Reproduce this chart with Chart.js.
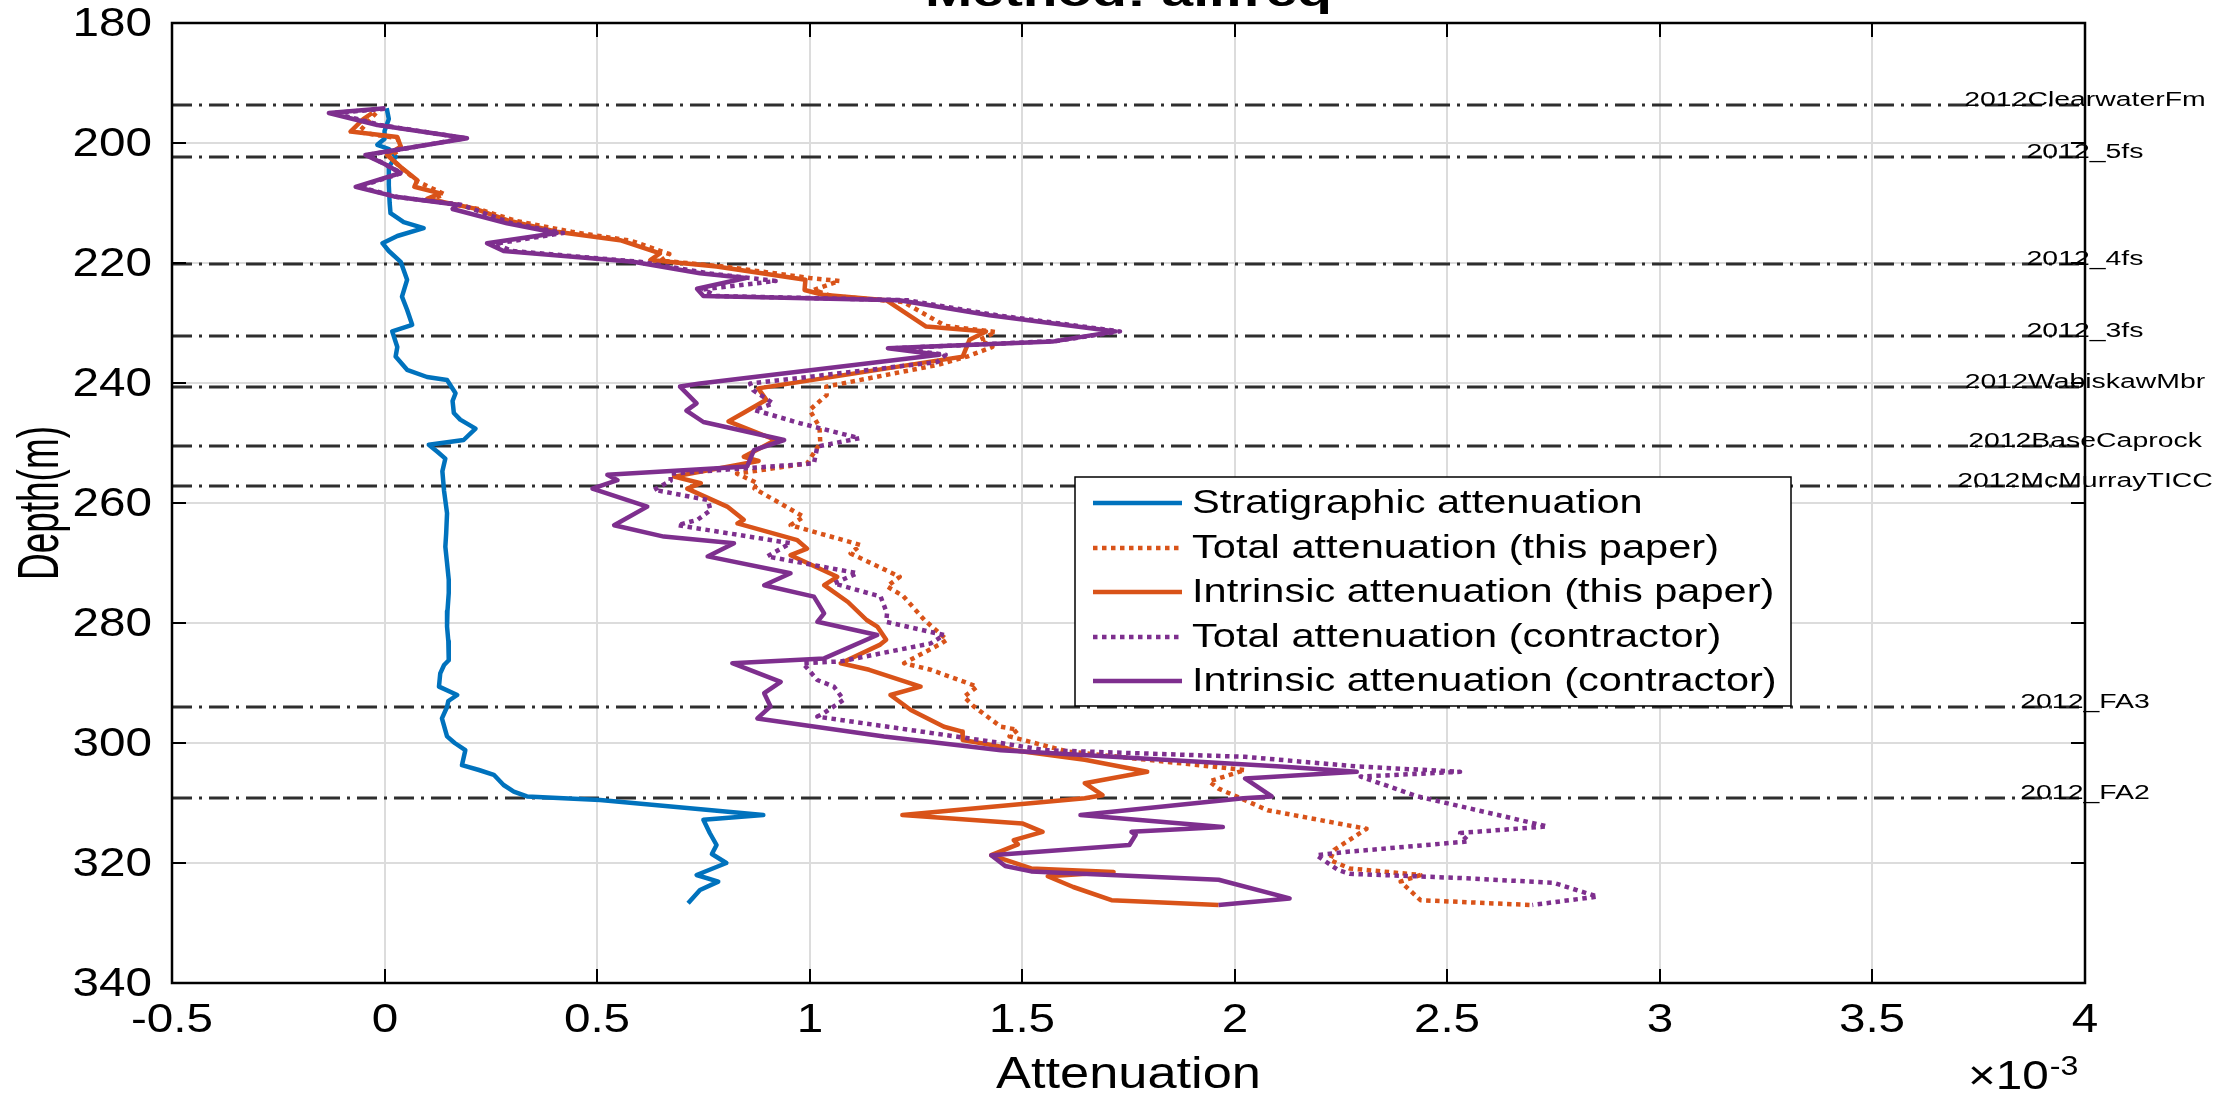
<!DOCTYPE html>
<html>
<head>
<meta charset="utf-8">
<title>Method: allfreq</title>
<script src="https://cdn.jsdelivr.net/npm/chart.js@4.4.0/dist/chart.umd.min.js"></script>
<style>
  html, body { margin: 0; padding: 0; background: #fff; overflow: hidden; }
  canvas { display: block; }
</style>
</head>
<body>
<canvas id="attenChart" width="2232" height="1094"></canvas>
<script>
// attenuation values are in units of 1e-3, depths in metres

// stratigraphic attenuation
const stratDepth = [194.2, 196.0, 198.0, 199.3, 200.3, 201.0, 202.3, 204.0, 207.0, 210.0, 211.7, 213.2, 214.2, 215.5, 216.7, 218.0, 219.8, 222.8, 225.6, 227.8, 230.3, 231.4, 234.0, 235.6, 237.8, 239.0, 239.5, 241.7, 243.0, 245.0, 246.1, 247.6, 249.5, 250.3, 251.5, 252.6, 254.7, 258.0, 261.7, 265.0, 267.3, 270.0, 272.8, 275.0, 278.0, 280.6, 283.0, 286.2, 287.0, 288.4, 290.6, 292.0, 293.0, 294.0, 295.9, 298.9, 300.0, 301.2, 303.7, 304.5, 305.3, 307.0, 308.1, 308.9, 309.5, 312.0, 312.8, 315.0, 317.0, 318.5, 320.0, 322.0, 323.1, 324.5, 326.7];
const stratAtten = [0.005, 0.010, 0.000, 0.000, -0.017, 0.010, 0.026, 0.010, 0.010, 0.012, 0.014, 0.045, 0.092, 0.030, -0.005, 0.010, 0.038, 0.053, 0.041, 0.053, 0.065, 0.018, 0.030, 0.026, 0.053, 0.100, 0.147, 0.167, 0.160, 0.163, 0.178, 0.214, 0.186, 0.104, 0.125, 0.143, 0.136, 0.140, 0.147, 0.145, 0.143, 0.147, 0.151, 0.151, 0.148, 0.147, 0.150, 0.151, 0.140, 0.131, 0.128, 0.171, 0.150, 0.147, 0.135, 0.147, 0.165, 0.190, 0.182, 0.222, 0.257, 0.280, 0.304, 0.335, 0.507, 0.891, 0.750, 0.765, 0.781, 0.770, 0.804, 0.734, 0.785, 0.742, 0.714];

// total attenuation (this paper)
const totalPaperDepth = [195.0, 196.5, 198.2, 199.2, 201.0, 202.2, 204.2, 206.5, 208.5, 209.5, 211.0, 213.0, 214.8, 216.3, 218.5, 219.6, 220.6, 222.5, 223.0, 224.5, 225.5, 226.5, 230.5, 231.5, 232.8, 234.0, 235.6, 237.0, 240.6, 242.0, 244.5, 247.3, 250.0, 253.4, 255.1, 256.7, 257.6, 262.3, 263.7, 267.0, 268.4, 272.3, 273.9, 275.5, 279.5, 282.8, 283.4, 286.7, 287.8, 290.6, 292.3, 293.9, 297.3, 297.8, 298.9, 301.4, 304.5, 306.4, 307.6, 311.2, 314.3, 317.8, 319.5, 320.9, 322.0, 323.1, 326.2, 327.0];
const totalPaperAtten = [-0.020, -0.040, -0.060, 0.030, 0.040, 0.010, 0.040, 0.080, 0.140, 0.110, 0.220, 0.310, 0.440, 0.580, 0.670, 0.650, 0.800, 1.000, 1.070, 1.010, 1.050, 1.220, 1.320, 1.438, 1.400, 1.430, 1.370, 1.300, 1.039, 1.040, 1.000, 1.023, 1.025, 0.994, 0.829, 0.877, 0.870, 0.986, 0.955, 1.120, 1.096, 1.212, 1.182, 1.220, 1.270, 1.323, 1.310, 1.222, 1.285, 1.394, 1.363, 1.386, 1.450, 1.490, 1.470, 1.605, 2.024, 1.940, 1.962, 2.077, 2.310, 2.234, 2.224, 2.270, 2.437, 2.390, 2.437, 2.696];

// intrinsic attenuation (this paper)
const intrPaperDepth = [195.0, 196.0, 198.1, 199.0, 200.6, 202.0, 204.0, 206.2, 207.3, 208.4, 209.3, 210.9, 212.9, 214.8, 216.2, 218.4, 219.5, 220.6, 222.8, 224.5, 225.3, 226.2, 230.6, 231.4, 232.8, 235.6, 240.9, 242.8, 245.0, 246.4, 249.5, 252.3, 253.0, 255.6, 256.7, 257.6, 260.6, 262.8, 263.4, 266.2, 267.6, 268.7, 272.3, 273.7, 276.5, 279.5, 280.6, 282.8, 283.6, 286.7, 287.8, 290.6, 292.0, 294.5, 297.3, 298.1, 299.5, 300.6, 301.2, 302.8, 304.8, 306.7, 308.7, 309.2, 312.0, 313.4, 314.8, 316.2, 316.9, 318.7, 320.9, 321.5, 322.2, 324.0, 326.2, 327.0];
const intrPaperAtten = [-0.029, -0.050, -0.080, 0.030, 0.038, 0.006, 0.038, 0.077, 0.070, 0.131, 0.100, 0.210, 0.290, 0.405, 0.554, 0.648, 0.625, 0.781, 0.990, 0.988, 1.031, 1.180, 1.274, 1.415, 1.376, 1.360, 0.879, 0.898, 0.844, 0.809, 0.920, 0.845, 0.880, 0.681, 0.744, 0.712, 0.806, 0.845, 0.830, 0.971, 0.994, 0.955, 1.065, 1.034, 1.090, 1.134, 1.159, 1.180, 1.166, 1.073, 1.140, 1.261, 1.190, 1.238, 1.316, 1.359, 1.360, 1.450, 1.480, 1.647, 1.794, 1.647, 1.689, 1.647, 1.218, 1.500, 1.548, 1.480, 1.490, 1.427, 1.521, 1.715, 1.560, 1.620, 1.710, 1.962];

// total attenuation (contractor)
const totalContrDepth = [194.3, 195.0, 197.0, 199.2, 202.0, 205.0, 207.3, 209.0, 210.3, 213.4, 215.0, 216.8, 218.0, 219.8, 221.7, 223.0, 224.4, 225.5, 226.2, 228.7, 231.4, 233.0, 234.2, 235.3, 236.5, 240.1, 241.2, 243.4, 244.5, 246.7, 249.2, 250.6, 253.4, 255.1, 256.3, 257.8, 259.5, 261.2, 262.8, 263.7, 266.7, 268.9, 271.7, 273.4, 275.6, 278.4, 279.8, 282.0, 283.4, 286.4, 286.7, 289.5, 290.6, 292.8, 295.0, 295.6, 300.0, 301.2, 302.3, 303.9, 304.8, 305.6, 308.9, 313.9, 315.0, 316.4, 318.1, 318.7, 321.2, 321.8, 322.5, 323.3, 325.6, 327.0];
const totalContrAtten = [0.000, -0.120, -0.010, 0.190, -0.040, 0.040, -0.060, 0.030, 0.180, 0.300, 0.420, 0.260, 0.300, 0.600, 0.760, 0.920, 0.750, 0.780, 1.230, 1.440, 1.730, 1.580, 1.200, 1.320, 1.300, 0.860, 0.867, 0.914, 0.870, 0.977, 1.117, 1.018, 1.010, 0.673, 0.673, 0.634, 0.760, 0.767, 0.736, 0.689, 0.955, 0.900, 1.112, 1.057, 1.167, 1.182, 1.180, 1.316, 1.285, 1.073, 0.984, 1.018, 1.057, 1.080, 1.034, 1.018, 1.450, 1.553, 2.024, 2.287, 2.530, 2.296, 2.430, 2.735, 2.530, 2.550, 2.270, 2.192, 2.244, 2.270, 2.530, 2.750, 2.853, 2.700];

// intrinsic attenuation (contractor)
const intrContrDepth = [194.2, 195.0, 197.0, 199.2, 202.0, 203.5, 205.0, 207.3, 208.9, 210.3, 211.0, 213.4, 215.0, 216.7, 218.0, 219.8, 221.7, 222.5, 224.3, 225.5, 226.2, 228.7, 231.4, 233.1, 234.2, 235.3, 240.1, 240.6, 243.4, 244.6, 246.5, 249.5, 251.2, 253.9, 255.3, 256.2, 257.6, 260.6, 263.7, 265.6, 266.7, 268.9, 271.7, 273.7, 275.6, 278.4, 279.8, 282.0, 285.9, 286.7, 289.8, 291.7, 293.9, 295.9, 298.9, 301.2, 303.9, 304.8, 305.9, 308.9, 309.2, 312.0, 314.0, 314.8, 315.3, 317.0, 318.7, 320.5, 321.4, 322.8, 325.9, 327.0];
const intrContrAtten = [0.002, -0.131, -0.017, 0.194, -0.045, 0.000, 0.038, -0.068, 0.022, 0.171, 0.160, 0.288, 0.405, 0.241, 0.280, 0.585, 0.742, 0.850, 0.735, 0.750, 1.211, 1.423, 1.720, 1.571, 1.184, 1.305, 0.742, 0.695, 0.734, 0.710, 0.750, 0.940, 0.869, 0.853, 0.524, 0.548, 0.489, 0.618, 0.540, 0.657, 0.822, 0.760, 0.955, 0.893, 1.010, 1.034, 1.018, 1.159, 1.034, 0.818, 0.932, 0.893, 0.908, 0.877, 1.175, 1.450, 2.108, 2.287, 2.024, 2.087, 2.020, 1.637, 1.972, 1.757, 1.767, 1.752, 1.427, 1.460, 1.521, 1.962, 2.129, 1.962];

// formation tops
const topNames = ['2012ClearwaterFm', '2012_5fs', '2012_4fs', '2012_3fs', '2012WabiskawMbr', '2012BaseCaprock', '2012McMurrayTICC', '2012_FA3', '2012_FA2'];
const topDepths = [193.7, 202.4, 220.2, 232.2, 240.6, 250.5, 257.1, 294.0, 309.1];

const seriesNames = ['Stratigraphic attenuation', 'Total attenuation (this paper)', 'Intrinsic attenuation (this paper)', 'Total attenuation (contractor)', 'Intrinsic attenuation (contractor)'];

const BLUE = '#0072BD', ORANGE = '#D95319', PURPLE = '#7E2F8E';
const DOT = [4.5, 4.5];
const FONT = '"Liberation Sans", Arial, Helvetica, sans-serif';

function pts(depth, atten) {
  return depth.map((d, i) => ({ x: atten[i], y: d }));
}

function line(label, depth, atten, color, dash, order) {
  return {
    label: label,
    data: pts(depth, atten),
    showLine: true,
    borderColor: color,
    backgroundColor: color,
    borderWidth: 4.5,
    borderDash: dash,
    borderCapStyle: 'butt',
    borderJoinStyle: 'round',
    pointRadius: 0,
    tension: 0,
    order: order
  };
}

// text is drawn wide: sx scales along the text, sy across it
function drawText(ctx, text, x, y, size, o) {
  o = o || {};
  ctx.save();
  ctx.font = (o.bold ? 'bold ' : '') + size + 'px ' + FONT;
  ctx.fillStyle = '#000';
  ctx.textAlign = o.align || 'left';
  ctx.textBaseline = o.baseline || 'alphabetic';
  ctx.translate(x, y);
  if (o.rotate) ctx.rotate(o.rotate);
  ctx.scale(o.sx || 1.2, o.sy || 1);
  ctx.fillText(text, 0, 0);
  const w = ctx.measureText(text).width * (o.sx || 1.2);
  ctx.restore();
  return w;
}

// dash-dot formation markers under the curves
const formationLines = {
  id: 'formationLines',
  beforeDatasetsDraw(chart) {
    const { ctx, chartArea: a, scales: { y } } = chart;
    ctx.save();
    ctx.strokeStyle = '#2e2e2e';
    ctx.lineWidth = 3;
    ctx.setLineDash([20, 7, 3, 7]);
    topDepths.forEach(d => {
      const py = Math.round(y.getPixelForValue(d));
      ctx.beginPath();
      ctx.moveTo(a.left, py);
      ctx.lineTo(a.right, py);
      ctx.stroke();
    });
    ctx.restore();
  }
};

// box, inward ticks, labels, legend and title
const matlabFrame = {
  id: 'matlabFrame',
  afterDraw(chart) {
    const { ctx, chartArea: a, scales: { x, y } } = chart;
    ctx.save();
    ctx.strokeStyle = '#000';
    ctx.lineWidth = 2;
    const tl = 14;
    x.ticks.forEach(t => {
      const px = Math.round(x.getPixelForValue(t.value));
      ctx.beginPath();
      ctx.moveTo(px, a.bottom); ctx.lineTo(px, a.bottom - tl);
      ctx.moveTo(px, a.top); ctx.lineTo(px, a.top + tl);
      ctx.stroke();
      drawText(ctx, String(t.value), px, a.bottom + 38, 40, { align: 'center', baseline: 'middle', sx: 1.19 });
    });
    y.ticks.forEach(t => {
      const py = Math.round(y.getPixelForValue(t.value));
      ctx.beginPath();
      ctx.moveTo(a.left, py); ctx.lineTo(a.left + tl, py);
      ctx.moveTo(a.right, py); ctx.lineTo(a.right - tl, py);
      ctx.stroke();
      drawText(ctx, String(t.value), a.left - 20, py + 2, 40, { align: 'right', baseline: 'middle', sx: 1.19 });
    });
    ctx.lineWidth = 2.5;
    ctx.strokeRect(a.left, a.top, a.right - a.left, a.bottom - a.top);
    ctx.restore();

    // formation names centred on the right axis
    topDepths.forEach((d, i) => {
      const py = Math.round(y.getPixelForValue(d));
      drawText(ctx, topNames[i], x.getPixelForValue(4), py + 1, 20, { align: 'center', sx: 1.42 });
    });

    // axis titles
    const cx = (a.left + a.right) / 2;
    drawText(ctx, 'Attenuation', cx, 1088, 44, { align: 'center', sx: 1.19 });
    drawText(ctx, 'Depth(m)', 42, (a.top + a.bottom) / 2, 44, { align: 'center', baseline: 'middle', rotate: -Math.PI / 2, sx: 0.84, sy: 1.3 });
    const w = drawText(ctx, '\u00d710', 1968, 1089, 40, { sx: 1.19 });
    drawText(ctx, '-3', 1968 + w + 1, 1075, 27, { sx: 1.19 });

    // title, clipped by the top of the figure
    drawText(ctx, 'Method: allfreq', cx, 6, 40, { align: 'center', bold: true, sx: 1.42 });

    // legend
    const lx = 1075, ly = 477, lw = 716, lh = 229;
    ctx.save();
    ctx.fillStyle = '#fff';
    ctx.fillRect(lx, ly, lw, lh);
    ctx.strokeStyle = '#000';
    ctx.lineWidth = 1.5;
    ctx.strokeRect(lx, ly, lw, lh);
    chart.data.datasets.forEach((ds, i) => {
      const ry = Math.round(ly + 26 + i * 44.5);
      ctx.strokeStyle = ds.borderColor;
      ctx.lineWidth = ds.borderWidth;
      ctx.setLineDash(ds.borderDash || []);
      ctx.beginPath();
      ctx.moveTo(lx + 18, ry);
      ctx.lineTo(lx + 107, ry);
      ctx.stroke();
      ctx.setLineDash([]);
      drawText(ctx, ds.label, lx + 117, ry + 1, 33, { baseline: 'middle', sx: 1.26 });
    });
    ctx.restore();
  }
};

const ctx = document.getElementById('attenChart').getContext('2d');
const chart = new Chart(ctx, {
  type: 'scatter',
  data: {
    datasets: [
      line(seriesNames[0], stratDepth, stratAtten, BLUE, [], 4),
      line(seriesNames[1], totalPaperDepth, totalPaperAtten, ORANGE, DOT, 3),
      line(seriesNames[2], intrPaperDepth, intrPaperAtten, ORANGE, [], 2),
      line(seriesNames[3], totalContrDepth, totalContrAtten, PURPLE, DOT, 1),
      line(seriesNames[4], intrContrDepth, intrContrAtten, PURPLE, [], 0)
    ]
  },
  options: {
    responsive: false,
    animation: false,
    devicePixelRatio: 1,
    layout: { padding: { top: 23, right: 147, left: 0, bottom: 0 } },
    plugins: {
      legend: { display: false },
      title: { display: false },
      tooltip: { enabled: false }
    },
    scales: {
      x: {
        type: 'linear',
        min: -0.5,
        max: 4,
        ticks: { stepSize: 0.5, display: false },
        grid: { color: '#dcdcdc', lineWidth: 2, drawTicks: false },
        border: { display: false },
        afterFit: s => { s.height = 111; }
      },
      y: {
        type: 'linear',
        reverse: true,
        min: 180,
        max: 340,
        ticks: { stepSize: 20, display: false },
        grid: { color: '#dcdcdc', lineWidth: 2, drawTicks: false },
        border: { display: false },
        afterFit: s => { s.width = 172; }
      }
    }
  },
  plugins: [formationLines, matlabFrame]
});
</script>
</body>
</html>
